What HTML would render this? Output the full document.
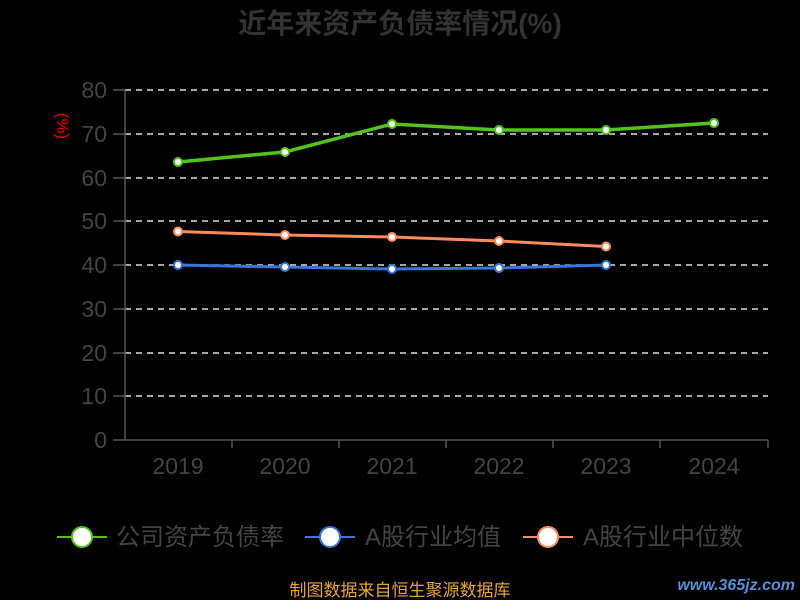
<!DOCTYPE html>
<html><head><meta charset="utf-8"><style>body{margin:0;background:#000;}svg{display:block}</style></head>
<body>
<svg width="800" height="600" xmlns="http://www.w3.org/2000/svg" font-family="Liberation Sans, Noto Sans CJK SC, sans-serif">
<rect width="800" height="600" fill="#000"/>
<text x="400" y="33" text-anchor="middle" font-size="28" font-weight="bold" fill="#333">近年来资产负债率情况(%)</text>
<text x="0" y="0" transform="translate(57,126) rotate(90)" text-anchor="middle" font-size="17" fill="#e00">(%)</text>
<g stroke="#ddd" stroke-width="1.5" stroke-dasharray="6,5">
<line x1="125" x2="768" y1="90" y2="90"/><line x1="125" x2="768" y1="134" y2="134"/><line x1="125" x2="768" y1="178" y2="178"/><line x1="125" x2="768" y1="221" y2="221"/><line x1="125" x2="768" y1="265" y2="265"/><line x1="125" x2="768" y1="309" y2="309"/><line x1="125" x2="768" y1="353" y2="353"/><line x1="125" x2="768" y1="396" y2="396"/>
</g>
<g stroke="#555" stroke-width="1.5">
<line x1="125" x2="125" y1="90" y2="440"/><line x1="125" x2="768" y1="440" y2="440"/>
<line x1="113" x2="125" y1="90" y2="90"/><line x1="113" x2="125" y1="134" y2="134"/><line x1="113" x2="125" y1="178" y2="178"/><line x1="113" x2="125" y1="221" y2="221"/><line x1="113" x2="125" y1="265" y2="265"/><line x1="113" x2="125" y1="309" y2="309"/><line x1="113" x2="125" y1="353" y2="353"/><line x1="113" x2="125" y1="396" y2="396"/><line x1="113" x2="125" y1="440" y2="440"/>
<line x1="232" x2="232" y1="440" y2="448"/><line x1="339" x2="339" y1="440" y2="448"/><line x1="446" x2="446" y1="440" y2="448"/><line x1="553" x2="553" y1="440" y2="448"/><line x1="660" x2="660" y1="440" y2="448"/><line x1="768" x2="768" y1="440" y2="448"/>
</g>
<g font-size="23" fill="#444" text-anchor="end">
<text x="107" y="98">80</text><text x="107" y="142">70</text><text x="107" y="186">60</text><text x="107" y="229">50</text><text x="107" y="273">40</text><text x="107" y="317">30</text><text x="107" y="361">20</text><text x="107" y="404">10</text><text x="107" y="448">0</text>
</g>
<g font-size="23" fill="#444" text-anchor="middle">
<text x="178" y="474">2019</text><text x="285" y="474">2020</text><text x="392" y="474">2021</text><text x="499" y="474">2022</text><text x="606" y="474">2023</text><text x="714" y="474">2024</text>
</g>
<polyline points="178,162 285,152 392,124 499,130 606,130 714,123" fill="none" stroke="#52c41a" stroke-width="3.5"/>
<polyline points="178,231.5 285,235 392,237 499,241 606,246.5" fill="none" stroke="#ff8c5a" stroke-width="3"/>
<polyline points="178,265 285,267 392,269 499,268 606,265" fill="none" stroke="#3a75d9" stroke-width="3"/>
<g fill="#fff" stroke-width="2">
<g stroke="#52c41a"><circle cx="178" cy="162" r="4"/><circle cx="285" cy="152" r="4"/><circle cx="392" cy="124" r="4"/><circle cx="499" cy="130" r="4"/><circle cx="606" cy="130" r="4"/><circle cx="714" cy="123" r="4"/></g>
<g stroke="#ff8c5a"><circle cx="178" cy="231.5" r="4"/><circle cx="285" cy="235" r="4"/><circle cx="392" cy="237" r="4"/><circle cx="499" cy="241" r="4"/><circle cx="606" cy="246.5" r="4"/></g>
<g stroke="#3a75d9"><circle cx="178" cy="265" r="4"/><circle cx="285" cy="267" r="4"/><circle cx="392" cy="269" r="4"/><circle cx="499" cy="268" r="4"/><circle cx="606" cy="265" r="4"/></g>
</g>
<g font-size="24" fill="#444">
<line x1="57" x2="107" y1="537" y2="537" stroke="#52c41a" stroke-width="2"/><circle cx="82" cy="537" r="10" fill="#fff" stroke="#52c41a" stroke-width="2"/>
<text x="116" y="545">公司资产负债率</text>
<line x1="305" x2="355" y1="537" y2="537" stroke="#3a75d9" stroke-width="2"/><circle cx="330" cy="537" r="10" fill="#fff" stroke="#3a75d9" stroke-width="2"/>
<text x="365" y="545">A股行业均值</text>
<line x1="523" x2="573" y1="537" y2="537" stroke="#ff8c5a" stroke-width="2"/><circle cx="548" cy="537" r="10" fill="#fff" stroke="#ff8c5a" stroke-width="2"/>
<text x="583" y="545">A股行业中位数</text>
</g>
<text x="400" y="596" text-anchor="middle" font-size="17" fill="#e8a33a">制图数据来自恒生聚源数据库</text>
<text x="795" y="590" text-anchor="end" font-size="16" font-weight="bold" font-style="italic" fill="#5b8fd6">www.365jz.com</text>
</svg>
</body></html>
